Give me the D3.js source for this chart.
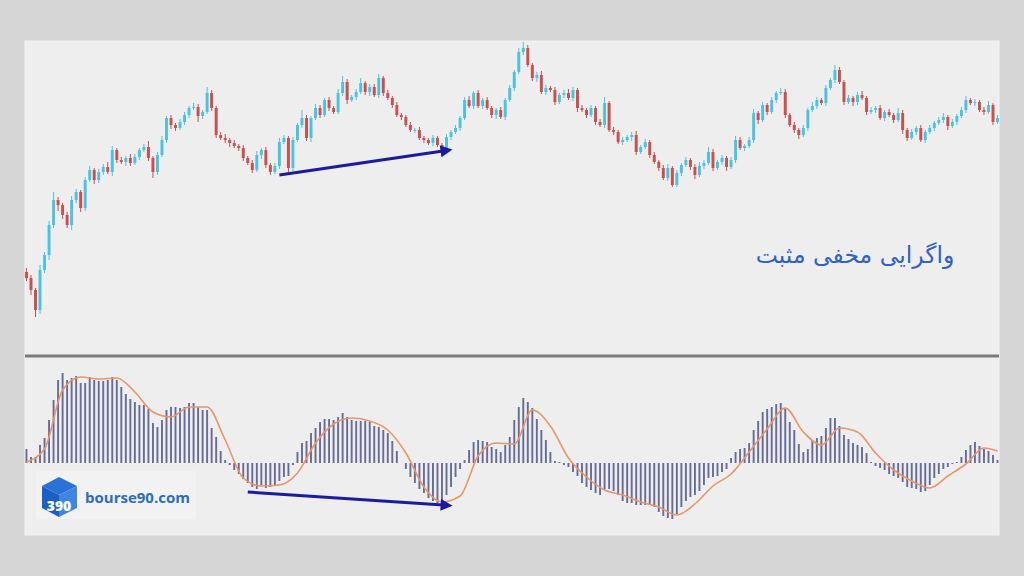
<!DOCTYPE html>
<html>
<head>
<meta charset="utf-8">
<script src="https://cdn.jsdelivr.net/npm/d3@7"></script>
<style>
  body { margin: 0; background: #d6d6d6; }
  svg { display: block; }
</style>
</head>
<body>
<div id="chart"></div>
<script>
// close prices, one per candle (open = previous close)
const firstOpen = 68;
const closes = [
  62,50,30,70,85,115,140,135,125,115,
  140,148,132,160,170,160,168,173,168,190,
  180,178,182,177,183,190,193,182,168,185,
  200,222,215,212,218,225,232,233,224,228,
  247,232,205,202,200,197,194,192,182,177,
  170,185,190,175,168,174,198,202,172,200,
  215,222,202,222,232,225,240,232,228,247,
  258,240,243,248,257,248,253,245,262,247,
  242,235,225,223,215,210,210,202,200,197,
  202,195,192,203,208,212,222,240,234,247,
  234,240,232,225,230,223,240,252,268,288,
  292,275,262,265,248,252,250,238,245,247,
  242,250,232,230,225,232,218,215,237,210,
  208,198,200,203,205,188,193,198,185,178,
  172,162,172,155,167,175,180,173,165,174,
  177,188,172,178,182,173,180,200,192,194,
  200,227,220,235,228,240,247,248,225,215,
  210,205,212,230,234,240,237,252,260,270,
  258,238,242,238,245,242,228,230,232,222,
  228,225,220,227,210,202,208,212,200,208,
  212,217,220,223,214,218,224,230,240,237,
  238,230,228,235,218,222
];
const wickHi = [
  4,3,2,5,3,4,8,3,2,3, 4,3,2,3,4,2,3,3,5,4, 2,3,2,4,3,2,3,6,2,3,
  4,2,3,2,3,3,2,4,3,2, 6,3,2,3,4,2,3,2,3,2, 3,4,2,3,2,3,4,3,2,3,
  2,8,3,2,4,3,2,3,2,4, 6,3,2,3,5,2,3,3,4,2, 3,2,3,2,2,3,2,3,2,2,
  3,2,2,3,2,3,2,3,4,2, 3,2,3,2,2,3,2,3,2,4, 6,3,2,3,4,3,2,3,2,3,
  4,3,2,3,2,3,2,3,6,2, 3,2,3,2,3,4,2,3,2,3, 2,3,4,2,3,2,3,2,3,4,
  3,5,3,2,3,2,3,4,3,2, 3,4,2,3,2,3,2,4,3,2, 3,2,3,2,4,3,2,3,2,5,
  3,2,3,2,3,4,2,3,2,3, 2,3,2,5,3,2,3,2,3,2, 3,2,3,4,2,3,2,3,4,2,
  3,2,3,4,2,3
];
const wickLo = [
  3,5,7,4,3,5,3,6,4,3, 5,3,4,3,2,4,3,3,2,4, 3,2,4,3,2,3,2,3,6,3,
  2,3,4,3,2,3,3,2,6,3, 2,3,3,2,3,4,2,3,3,2, 3,2,4,3,3,2,3,2,4,3,
  2,3,3,4,2,3,2,3,2,2, 3,4,2,3,2,3,4,2,3,3, 2,3,2,3,2,2,3,2,3,2,
  3,2,4,2,3,2,3,2,2,3, 2,3,2,3,4,2,3,2,3,2, 3,2,3,4,2,3,2,3,2,3,
  2,3,4,2,3,2,3,2,3,2, 3,2,3,2,4,3,2,2,3,2, 3,2,3,2,2,3,2,3,4,2,
  3,2,3,2,3,4,2,3,2,3, 2,3,4,2,3,2,3,2,3,2, 3,4,2,3,2,3,2,3,2,3,
  2,3,2,4,3,2,3,2,3,2, 3,2,3,2,4,3,2,3,2,3, 2,3,2,3,4,2,3,2,3,2,
  3,2,3,2,3,2
];

// MACD histogram, one bar per candle
const macdHist = [
  14,6,6,18,25,43,63,83,90,83,
  85,87,80,80,86,83,82,82,83,86,
  83,76,69,64,61,58,58,54,40,36,
  43,53,56,56,55,56,60,60,56,53,
  53,35,26,12,3,-2,-7,-11,-16,-20,
  -24,-26,-22,-25,-24,-22,-18,-14,-13,-2,
  11,20,22,30,35,41,44,44,43,46,
  50,46,43,42,42,42,41,37,36,33,
  30,22,12,0,-6,-14,-20,-26,-30,-35,
  -38,-40,-37,-32,-24,-14,-6,3,13,21,
  23,22,21,16,14,11,18,26,43,56,
  65,61,55,44,33,23,11,2,1,-2,
  -4,-9,-13,-20,-24,-27,-30,-32,-26,-26,
  -28,-32,-38,-40,-40,-42,-42,-42,-42,-44,
  -49,-53,-55,-56,-51,-44,-38,-34,-32,-28,
  -22,-15,-14,-13,-9,-6,5,11,14,15,
  20,33,42,51,54,56,59,60,54,41,
  33,19,11,14,22,25,27,35,45,45,
  37,28,24,20,18,16,10,1,-3,-5,
  -7,-11,-13,-15,-19,-24,-25,-26,-29,-28,
  -22,-15,-11,-6,-4,-1,1,6,13,18,
  21,17,14,12,8,3
];

// signal line, sampled every few bars
const signalBar = [0,4,8,12,16,20,24,28,32,36,40,44,48,52,56,60,64,68,72,76,80,84,88,92,96,100,
  104,108,112,116,120,124,128,132,136,140,144,148,152,156,160,164,168,172,176,180,184,188,192,196,
  200,204,208,212,215];
const signalVal = [1,14,73,86,84,85,71,51,46,56,56,23,-15,-23,-22,-10,20,39,45,42,33,10,-24,-39,-33,7,
  20,19,53,37,5,-14,-27,-32,-39,-44,-52,-41,-23,-11,11,34,55,31,18,35,31,10,-7,-18,
  -25,-13,-1,15,12];

// divergence arrows: [candle index, value]
const priceArrow = [[56, 165], [94, 190]];
const macdArrow = [[49, -29], [94, -43]];

const title = "واگرایی مخفی مثبت";
const site = "bourse90.com";

const W = 1024, H = 576;
const panel = { x: 25, y: 41, w: 974, h: 494 };

const svg = d3.select("#chart").append("svg")
  .attr("width", W).attr("height", H);

svg.append("rect").attr("width", W).attr("height", H).attr("fill", "#d6d6d6");
svg.append("rect")
  .attr("x", panel.x).attr("y", panel.y)
  .attr("width", panel.w).attr("height", panel.h)
  .attr("fill", "#eeeeee")
  .attr("stroke", "#f4f4f4").attr("stroke-width", 1);

// candles
const candles = closes.map((c, i) => {
  const o = i === 0 ? firstOpen : closes[i - 1];
  return { i, o, c, h: Math.max(o, c) + wickHi[i], l: Math.min(o, c) - wickLo[i] };
});

const x = d3.scaleBand()
  .domain(d3.range(candles.length))
  .range([panel.x, panel.x + panel.w])
  .paddingInner(0.35);
const xc = i => x(i) + x.bandwidth() / 2;

const yPrice = d3.scaleLinear().domain([0, 300]).range([340, 40]);
const yMacd = d3.scaleLinear().domain([-72, 103]).range([535, 360]);

const upCol = "#4cc2e2", downCol = "#c8504e";

const cg = svg.append("g").attr("class", "candles");
cg.selectAll("line")
  .data(candles)
  .join("line")
  .attr("x1", d => xc(d.i)).attr("x2", d => xc(d.i))
  .attr("y1", d => yPrice(d.h)).attr("y2", d => yPrice(d.l))
  .attr("stroke", d => d.c >= d.o ? upCol : downCol)
  .attr("stroke-width", 1);
cg.selectAll("rect")
  .data(candles)
  .join("rect")
  .attr("x", d => x(d.i))
  .attr("width", x.bandwidth())
  .attr("y", d => yPrice(Math.max(d.o, d.c)))
  .attr("height", d => Math.max(1, Math.abs(yPrice(d.o) - yPrice(d.c))))
  .attr("fill", d => d.c >= d.o ? upCol : downCol);

// separator between panes
svg.append("line")
  .attr("x1", panel.x).attr("x2", panel.x + panel.w)
  .attr("y1", 356).attr("y2", 356)
  .attr("stroke", "#7a7a7a").attr("stroke-width", 3);

// histogram
svg.append("g").selectAll("line")
  .data(macdHist)
  .join("line")
  .attr("x1", (d, i) => xc(i)).attr("x2", (d, i) => xc(i))
  .attr("y1", yMacd(0)).attr("y2", d => yMacd(d))
  .attr("stroke", "#666b97").attr("stroke-width", 1.9);

// signal line
const sig = signalBar.map((b, k) => [xc(b), yMacd(signalVal[k])]);
svg.append("path")
  .attr("d", d3.line().curve(d3.curveMonotoneX)(sig))
  .attr("fill", "none")
  .attr("stroke", "#ea9468").attr("stroke-width", 1.6);

// arrows
const defs = svg.append("defs");
defs.append("marker")
  .attr("id", "head")
  .attr("viewBox", "0 0 10 10")
  .attr("refX", 2).attr("refY", 5)
  .attr("markerWidth", 4.5).attr("markerHeight", 4)
  .attr("orient", "auto")
  .append("path").attr("d", "M0,0L10,5L0,10Z").attr("fill", "#1a1aa6");

svg.append("line")
  .attr("x1", xc(priceArrow[0][0])).attr("y1", yPrice(priceArrow[0][1]))
  .attr("x2", xc(priceArrow[1][0]) - 8).attr("y2", yPrice(priceArrow[1][1]) + 1)
  .attr("stroke", "#1a1aa6").attr("stroke-width", 3)
  .attr("marker-end", "url(#head)");
svg.append("line")
  .attr("x1", xc(macdArrow[0][0])).attr("y1", yMacd(macdArrow[0][1]))
  .attr("x2", xc(macdArrow[1][0]) - 8).attr("y2", yMacd(macdArrow[1][1]) - 1)
  .attr("stroke", "#1a1aa6").attr("stroke-width", 3)
  .attr("marker-end", "url(#head)");

// label
svg.append("text")
  .attr("x", 855).attr("y", 263)
  .attr("text-anchor", "middle")
  .attr("direction", "rtl")
  .style("font-family", "'DejaVu Sans', sans-serif")
  .style("font-size", "23.5px")
  .attr("fill", "#2f62c8")
  .text(title);

// logo
const logo = svg.append("g").attr("transform", "translate(42,477)");
logo.append("rect").attr("x", -6).attr("y", -6).attr("width", 160).attr("height", 48)
  .attr("fill", "#f3f3f3").attr("opacity", 0.7);
logo.append("path").attr("d", "M17,0L35,9L17,18L0,9Z").attr("fill", "#2c72d6");
logo.append("path").attr("d", "M0,9L17,18L17,40L0,31Z").attr("fill", "#1d5fc2");
logo.append("path").attr("d", "M17,18L35,9L35,31L17,40Z").attr("fill", "#3d86e4");
logo.append("text")
  .attr("x", 17).attr("y", 34)
  .attr("text-anchor", "middle")
  .style("font-family", "'Open Sans', sans-serif")
  .style("font-weight", "800")
  .style("font-size", "14px")
  .attr("fill", "#ffffff")
  .text("390");
svg.append("text")
  .attr("x", 85).attr("y", 503)
  .style("font-family", "'Open Sans', sans-serif")
  .style("font-weight", "700")
  .style("font-size", "15px")
  .attr("fill", "#2d6cc0")
  .text(site);
</script>
</body>
</html>
